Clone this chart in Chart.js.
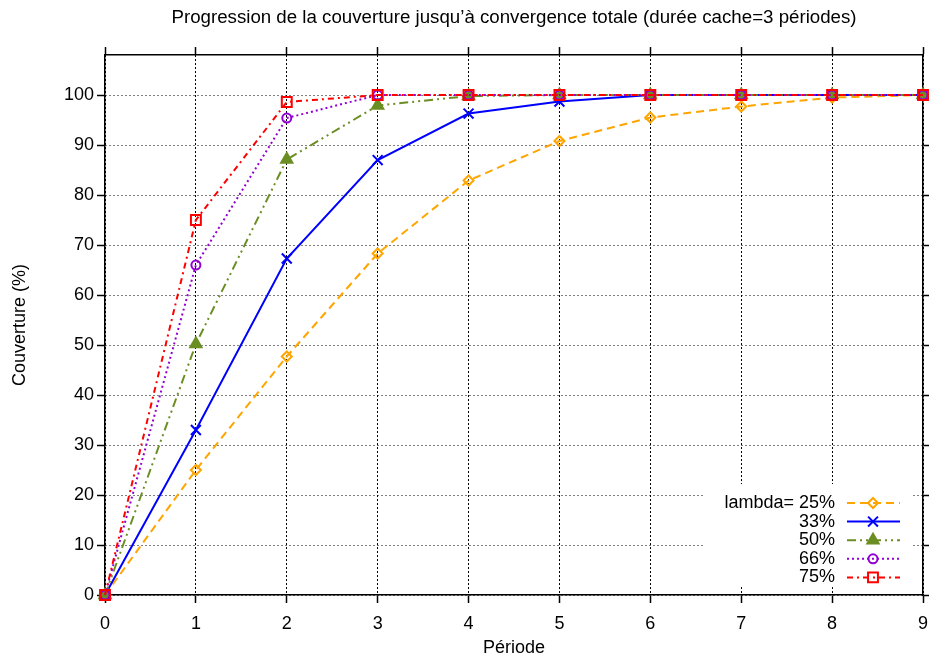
<!DOCTYPE html>
<html>
<head>
<meta charset="utf-8">
<script src="https://cdn.jsdelivr.net/npm/chart.js@4.4.1/dist/chart.umd.min.js"></script>
<style>
  html, body { margin: 0; padding: 0; background: #fff; overflow: hidden; }
  #wrap { width: 929px; height: 657px; overflow: hidden; }
</style>
</head>
<body>
<div id="wrap"><canvas id="c" width="929" height="657"></canvas></div>
<script>
// ---- Data ----
const periods = [0, 1, 2, 3, 4, 5, 6, 7, 8, 9];
const cov25 = [0, 25, 47.7, 68.3, 82.9, 90.8, 95.5, 97.7, 99.5, 100];
const cov33 = [0, 33, 67.3, 87.0, 96.3, 98.7, 100, 100, 100, 100];
const cov50 = [0, 50.2, 87.1, 97.9, 99.8, 100, 100, 100, 100, 100];
const cov66 = [0, 66, 95.4, 100, 100, 100, 100, 100, 100, 100];
const cov75 = [0, 75, 98.6, 100, 100, 100, 100, 100, 100, 100];
const seriesLabels = ['lambda= 25%', '33%', '50%', '66%', '75%'];
const yTicks = [0, 10, 20, 30, 40, 50, 60, 70, 80, 90, 100];
const xTicks = periods;
const titleText = 'Progression de la couverture jusqu\u2019à convergence totale (durée cache=3 périodes)';
const xTitle = 'Période';
const yTitle = 'Couverture (%)';

// ---- Styles ----
const FONT = 'Liberation Sans, Arial, Helvetica, sans-serif';
const styles = [
  { color: '#FFA500', dash: [8, 5], pointStyle: 'rectRot', radius: 5, fill: 'rgba(0,0,0,0)' },
  { color: '#0000FF', dash: [], pointStyle: 'crossRot', radius: 7, fill: 'rgba(0,0,0,0)' },
  { color: '#6B8E23', dash: [9, 4, 2, 4, 2, 4], pointStyle: 'triangle', radius: 6.5, fill: '#6B8E23' },
  { color: '#9400D3', dash: [2, 3], pointStyle: 'circle', radius: 4.5, fill: 'rgba(0,0,0,0)' },
  { color: '#FF0000', dash: [6, 4, 2, 4], pointStyle: 'rect', radius: 7, fill: 'rgba(0,0,0,0)' }
];
const series = [cov25, cov33, cov50, cov66, cov75];

const datasets = series.map((vals, i) => ({
  label: seriesLabels[i],
  data: periods.map((p, k) => ({ x: p, y: vals[k] })),
  borderColor: styles[i].color,
  backgroundColor: styles[i].fill,
  borderWidth: 2,
  borderDash: styles[i].dash,
  pointStyle: styles[i].pointStyle,
  pointRadius: styles[i].radius,
  pointBorderWidth: 2,
  pointBorderColor: styles[i].color,
  pointBackgroundColor: styles[i].fill,
  tension: 0,
  fill: false,
  clip: false,
  order: series.length - i
}));

const setTicks = arr => s => { s.ticks = arr.map(v => ({ value: v })); };

const legendPlugin = {
  id: 'gpLegend',
  beforeDatasetsDraw(chart) {
    const a = chart.chartArea, ctx = chart.ctx;
    ctx.save();
    ctx.fillStyle = '#fff';
    ctx.fillRect(a.right - 220, a.bottom - 111, 209, 102);
    ctx.restore();
  },
  afterDatasetsDraw(chart) {
    const a = chart.chartArea, ctx = chart.ctx;
    ctx.save();
    chart.data.datasets.forEach((ds, i) => {
      const y = a.bottom - 92 + i * 18.6;
      ctx.font = '18px ' + FONT;
      ctx.fillStyle = '#000';
      ctx.textAlign = 'right';
      ctx.textBaseline = 'middle';
      ctx.fillText(ds.label, a.right - 88, y);
      ctx.strokeStyle = ds.borderColor;
      ctx.lineWidth = ds.borderWidth;
      ctx.setLineDash(ds.borderDash);
      ctx.beginPath();
      ctx.moveTo(a.right - 76, y);
      ctx.lineTo(a.right - 23, y);
      ctx.stroke();
      ctx.setLineDash([]);
      ctx.fillStyle = ds.pointBackgroundColor;
      ctx.strokeStyle = ds.pointBorderColor;
      ctx.lineWidth = ds.pointBorderWidth;
      Chart.helpers.drawPoint(ctx, { pointStyle: ds.pointStyle, radius: ds.pointRadius, borderWidth: ds.pointBorderWidth, rotation: 0 }, a.right - 50, y);
    });
    ctx.restore();
  }
};

const tickFont = { family: FONT, size: 18 };
const titleFont = { family: FONT, size: 18, lineHeight: 1 };

new Chart(document.getElementById('c'), {
  type: 'line',
  data: { datasets },
  plugins: [legendPlugin],
  options: {
    responsive: false,
    animation: false,
    devicePixelRatio: 1,
    layout: { autoPadding: false, padding: 0 },
    plugins: {
      legend: { display: false },
      tooltip: { enabled: false },
      title: {
        display: true,
        text: titleText,
        fullSize: false,
        color: '#000',
        font: { family: FONT, size: 18.7, weight: 'normal', lineHeight: 1.2 },
        padding: { top: 7, bottom: 17.6 }
      }
    },
    scales: {
      x: {
        type: 'linear', position: 'bottom', min: 0, max: 9,
        afterBuildTicks: setTicks(xTicks),
        afterFit: s => { s.height = 62; s.paddingLeft = 0; s.paddingRight = 0; },
        grid: { color: '#000', lineWidth: 1, tickLength: 8, tickColor: '#000', tickWidth: 1.5 },
        border: { display: true, color: '#000', width: 1.5, dash: [2, 2] },
        ticks: { color: '#000', font: tickFont, padding: 10, maxRotation: 0, autoSkip: false },
        title: { display: true, text: xTitle, color: '#000', font: titleFont, padding: { top: 0, bottom: 0 } }
      },
      x2: {
        type: 'linear', position: 'top', min: 0, max: 9,
        afterBuildTicks: setTicks(xTicks),
        afterFit: s => { s.height = 8; s.paddingLeft = 0; s.paddingRight = 0; },
        grid: { drawOnChartArea: false, tickLength: 8, tickColor: '#000', tickWidth: 1.5 },
        border: { display: true, color: '#000', width: 1.5 },
        ticks: { display: false }
      },
      y: {
        type: 'linear', position: 'left', min: 0, max: 108,
        afterBuildTicks: setTicks(yTicks),
        afterFit: s => { s.width = 105; s.paddingTop = 0; s.paddingBottom = 0; },
        grid: { color: '#000', lineWidth: 1, tickLength: 8, tickColor: '#000', tickWidth: 1.5 },
        border: { display: true, color: '#000', width: 1.5, dash: [1, 3] },
        ticks: { color: '#000', font: tickFont, padding: 3 },
        title: { display: true, text: yTitle, color: '#000', font: titleFont, padding: { top: 11, bottom: 0 } }
      },
      y2: {
        type: 'linear', position: 'right', min: 0, max: 108,
        afterBuildTicks: setTicks(yTicks),
        afterFit: s => { s.width = 6; s.paddingTop = 0; s.paddingBottom = 0; },
        grid: { drawOnChartArea: false, tickLength: 8, tickColor: '#000', tickWidth: 1.5 },
        border: { display: true, color: '#000', width: 1.5 },
        ticks: { display: false }
      }
    }
  }
});
</script>
</body>
</html>
